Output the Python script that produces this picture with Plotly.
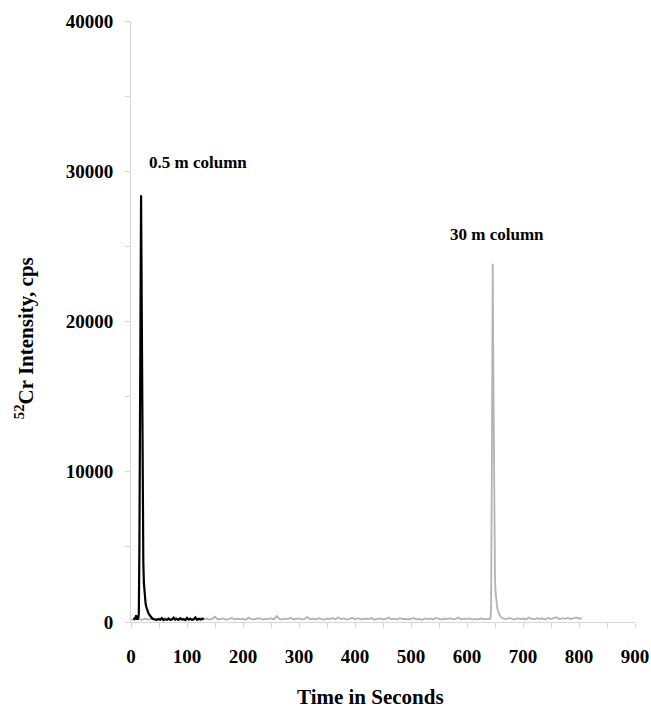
import plotly.graph_objects as go

# ---- 0.5 m column trace (black) ----
black_t = [5, 6, 7, 8, 9, 10, 11, 12, 13, 14, 15, 16, 17, 18, 19, 20, 21, 22, 23, 24,
           25, 26, 27, 28, 30, 32, 34, 36, 38, 40,
           43, 46, 49, 52, 55, 58, 61, 64, 67, 70, 73, 76, 79, 82, 85, 88, 91, 94, 97, 100,
           103, 106, 109, 112, 115, 118, 121, 124, 127, 130]
black_y = [150, 250, 300, 200, 450, 200, 180, 200, 250, 600, 5000, 18000, 26500, 28400, 22000, 13000, 7000, 4000, 2600, 1900,
           1500, 1250, 1050, 900, 700, 520, 400, 300, 230, 190,
           160, 140, 200, 150, 260, 130, 180, 150, 240, 140, 170, 290, 150, 200, 140, 250, 160, 190, 130, 270,
           150, 210, 140, 180, 300, 150, 220, 160, 190, 250]

# ---- 30 m column trace (gray) ----
gray_t = [0, 5, 10, 15, 20, 25, 30, 35, 40, 45, 50, 55, 60, 65, 70, 75, 80, 85, 90, 95,
          100, 105, 110, 115, 120, 125, 130, 135, 140, 145, 150, 155, 160, 165, 170, 175, 180, 185, 190, 195,
          200, 205, 210, 215, 220, 225, 230, 235, 240, 245, 250, 255, 260, 265, 270, 275, 280, 285, 290, 295,
          300, 305, 310, 315, 320, 325, 330, 335, 340, 345, 350, 355, 360, 365, 370, 375, 380, 385, 390, 395,
          400, 405, 410, 415, 420, 425, 430, 435, 440, 445, 450, 455, 460, 465, 470, 475, 480, 485, 490, 495,
          500, 505, 510, 515, 520, 525, 530, 535, 540, 545, 550, 555, 560, 565, 570, 575, 580, 585, 590, 595,
          600, 605, 610, 615, 620, 625, 630, 635, 640,
          642, 643, 644, 645, 646, 647, 648, 649, 650, 651, 652, 654, 656, 658, 660, 662,
          665, 670, 675, 680, 685, 690, 695, 700, 705, 710, 715, 720, 725, 730, 735, 740, 745, 750, 755, 760,
          765, 770, 775, 780, 785, 790, 795, 800, 805]
gray_y = [180, 150, 210, 170, 140, 230, 160, 190, 250, 150,
          200, 170, 260, 140, 210, 180, 310, 160, 220, 150,
          190, 240, 170, 200, 150, 280, 180, 230, 160, 210,
          350, 170, 200, 240, 150, 190, 270, 160, 220, 180,
          200, 150, 300, 190, 170, 230, 260, 160, 210, 180,
          250, 170, 390, 200, 160, 230, 190, 280, 170, 210,
          240, 160, 200, 330, 180, 220, 170, 260, 190, 150,
          230, 200, 270, 170, 310, 190, 240, 160, 210, 280,
          180, 250, 200, 170, 230, 190, 260, 150, 210, 240,
          170, 200, 290, 180, 220, 160, 250, 190, 210, 170,
          230, 260, 180, 200, 150, 240, 190, 220, 170, 280,
          200, 160, 230, 190, 250, 180, 210, 300, 170, 220,
          190, 240, 160, 210, 180, 230, 200, 170, 190,
          220, 900, 8000, 19000, 23850, 17000, 9000, 4800, 2900, 2000, 1500, 950, 650, 480, 360, 280,
          240, 180, 270, 200, 160, 250, 190, 230, 170, 300, 210, 180, 260, 200, 240, 170, 280, 190, 230, 320,
          180, 250, 210, 270, 190, 240, 300, 220, 260]

x_ticks = [0, 100, 200, 300, 400, 500, 600, 700, 800, 900]
y_ticks = [0, 10000, 20000, 30000, 40000]

labels = ["0.5 m column", "30 m column"]
label_x = [120, 653]
label_y = [30570, 25760]

FONT = "Liberation Serif"
AXC = "#d6d6d6"

fig = go.Figure()
fig.add_trace(go.Scatter(x=gray_t, y=gray_y, mode="lines",
                         line=dict(color="#b3b3b3", width=1.8), showlegend=False))
fig.add_trace(go.Scatter(x=black_t, y=black_y, mode="lines",
                         line=dict(color="#000000", width=2.2), showlegend=False))

for txt, lx, ly in zip(labels, label_x, label_y):
    fig.add_annotation(x=lx, y=ly, text=txt, showarrow=False, xref="x", yref="y",
                       xanchor="center", yanchor="middle",
                       font=dict(family=FONT, size=17, color="#000", weight="bold"))

fig.add_annotation(x=0.476, y=-0.125, xref="paper", yref="paper", text="Time in Seconds",
                   xanchor="center", yanchor="middle",
                   showarrow=False, font=dict(family=FONT, size=21, color="#000", weight="bold"))
fig.add_annotation(x=-0.21, y=0.4726, xref="paper", yref="paper", textangle=-90,
                   xanchor="center", yanchor="middle",
                   text="<sup>52</sup>Cr Intensity, cps",
                   showarrow=False, font=dict(family=FONT, size=21, color="#000", weight="bold"))

fig.update_layout(
    width=651, height=713,
    margin=dict(l=131, r=16, t=21, b=91),
    paper_bgcolor="white", plot_bgcolor="white",
    font=dict(family=FONT, color="#000"),
)
fig.update_xaxes(range=[0, 900], tickvals=x_ticks, ticktext=[str(v) for v in x_ticks],
                 automargin=False,
                 showgrid=False, zeroline=False, showline=True, linecolor=AXC, linewidth=1,
                 ticks="outside", ticklen=5, tickcolor=AXC, ticklabelstandoff=12,
                 tickfont=dict(family=FONT, size=19, color="#000", weight="bold"),
                 minor=dict(dtick=50, ticks="outside", ticklen=5, tickcolor=AXC, showgrid=False))
fig.update_yaxes(range=[0, 40000], tickvals=y_ticks, ticktext=[str(v) for v in y_ticks],
                 automargin=False,
                 showgrid=False, zeroline=False, showline=True, linecolor=AXC, linewidth=1,
                 ticks="outside", ticklen=5, tickcolor=AXC, ticklabelstandoff=8,
                 tickfont=dict(family=FONT, size=19, color="#000", weight="bold"),
                 minor=dict(dtick=5000, ticks="outside", ticklen=5, tickcolor=AXC, showgrid=False))

fig.write_html("out.html")
